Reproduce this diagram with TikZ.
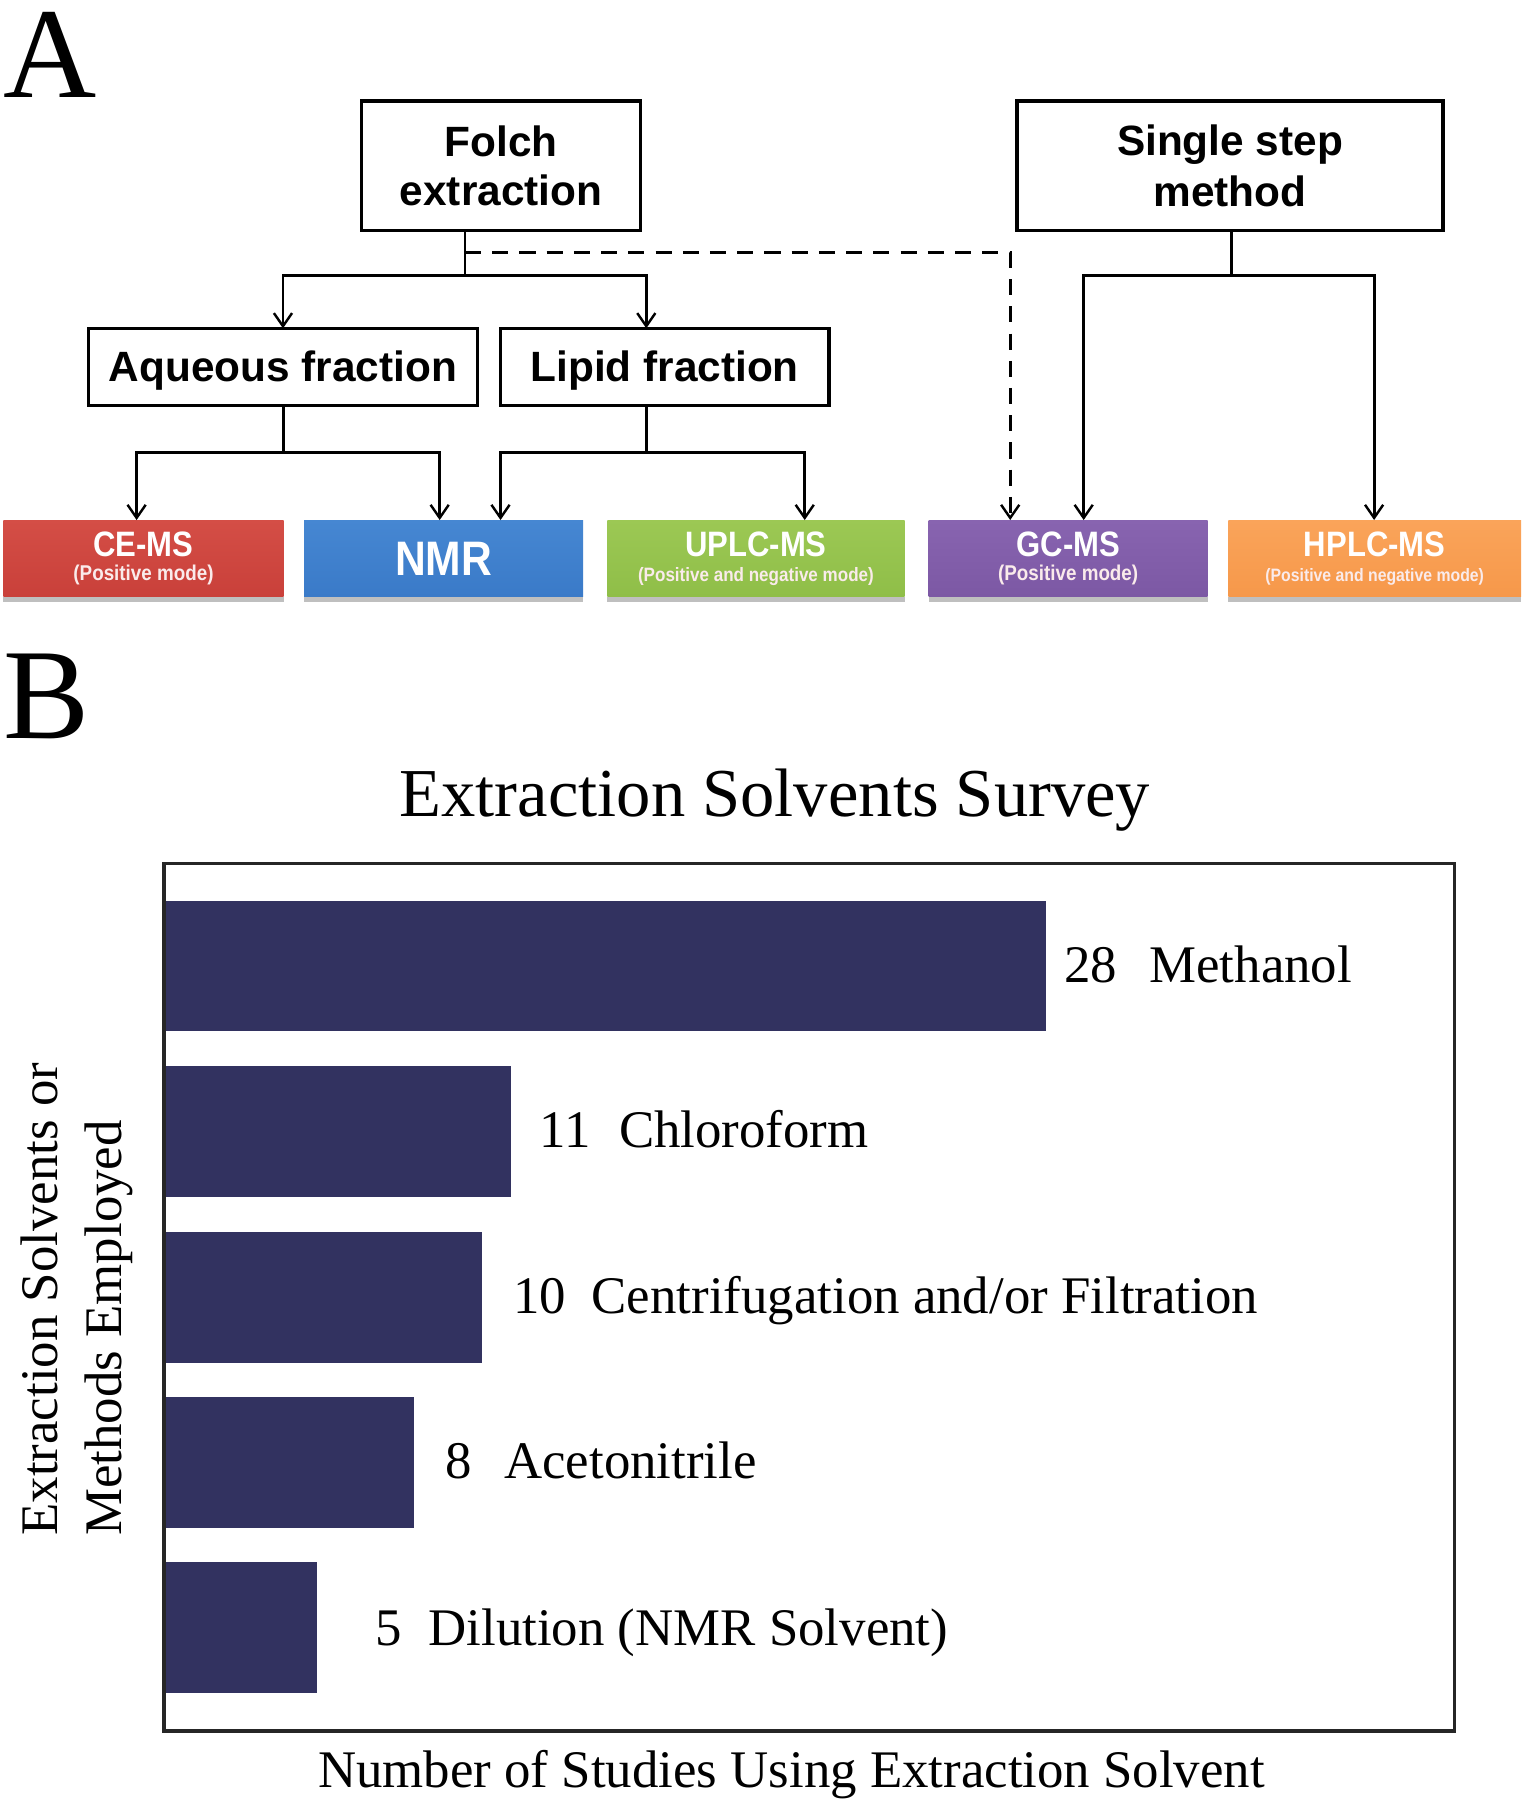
\documentclass[tikz,border=0pt]{standalone}
\usepackage{fontspec}
\setmainfont{Liberation Serif}
\newfontfamily\arialf{Liberation Sans}
\newfontfamily\arialn[FakeStretch=0.88]{Liberation Sans}
\usetikzlibrary{arrows.meta}
\definecolor{cered}{RGB}{201,64,58}
\definecolor{ceredtop}{RGB}{212,78,70}
\definecolor{nmrblue}{RGB}{58,122,200}
\definecolor{nmrbluetop}{RGB}{70,135,210}
\definecolor{uplcgreen}{RGB}{143,190,72}
\definecolor{uplcgreentop}{RGB}{156,200,84}
\definecolor{gcpurple}{RGB}{124,88,164}
\definecolor{gcpurpletop}{RGB}{136,100,176}
\definecolor{hplcorange}{RGB}{246,152,74}
\definecolor{hplcorangetop}{RGB}{250,164,90}
\definecolor{barblue}{RGB}{50,50,96}
\definecolor{subpink}{RGB}{250,235,235}
\begin{document}
\begin{tikzpicture}[x=0.02cm,y=-0.02cm,
  topbox/.style={draw, line width=1.7pt, inner sep=0pt, outer sep=0pt, align=center,
    font=\arialf\bfseries\fontsize{21}{25.6}\selectfont},
  onebox/.style={topbox, text height=15pt, text depth=0pt},
  methbox/.style={inner sep=0pt, outer sep=0pt, minimum height=1.34cm, align=center,
    text=white, font=\arialn\bfseries\fontsize{10}{12.2}\selectfont},
  conn/.style={line width=1.4pt},
  arr/.style={line width=1.4pt, -{Straight Barb[length=6.5pt,width=9pt,line width=1.2pt]}},
  dasharr/.style={arr, dash pattern=on 8pt off 5.5pt},
  lab/.style={inner sep=0pt, font=\fontsize{26.2}{30}\selectfont},
  panel/.style={inner sep=0pt, anchor=base west, text height=42pt, text depth=0pt,
    font=\fontsize{64}{70}\selectfont}
]
\useasboundingbox (0,0) rectangle (1328,1568);

% ---------- Panel A ----------
\node[panel] (pA) at (3,85) {A};

\node[topbox, minimum width=4.86cm, minimum height=2.26cm] (folch) at (436.5,144.5)
  {\raisebox{-1.5pt}{Folch}\\extraction};
\node[topbox, minimum width=7.42cm, minimum height=2.26cm] (single) at (1071.5,144.5) {Single step\\method};
\node[onebox, minimum width=6.78cm, minimum height=1.34cm] (aq) at (246.5,319.5) {Aqueous fraction};
\node[onebox, minimum width=5.72cm, minimum height=1.34cm] (lip) at (579,319.5) {Lipid fraction};

\node[methbox, minimum width=4.88cm, top color=ceredtop, bottom color=cered] (cems) at (125,486.5)
  {{\fontsize{17.5}{17.5}\selectfont CE-MS}\\{\color{subpink}\fontsize{10.6}{10.6}\selectfont (Positive mode)}};
\node[methbox, minimum width=4.86cm, top color=nmrbluetop, bottom color=nmrblue,
  font=\arialn\bfseries\fontsize{24}{24}\selectfont] (nmr) at (386.5,486.5) {NMR};
\node[methbox, minimum width=5.18cm, top color=uplcgreentop, bottom color=uplcgreen] (uplc) at (658.5,486.5)
  {{\fontsize{17.5}{17.5}\selectfont UPLC-MS}\\{\color{subpink}\fontsize{9.6}{9.6}\selectfont (Positive and negative mode)}};
\node[methbox, minimum width=4.86cm, top color=gcpurpletop, bottom color=gcpurple] (gcms) at (930.5,486.5)
  {{\fontsize{17.5}{17.5}\selectfont GC-MS}\\{\color{subpink}\fontsize{10.6}{10.6}\selectfont (Positive mode)}};
\node[methbox, minimum width=5.10cm, top color=hplcorangetop, bottom color=hplcorange] (hplc) at (1197.5,486.5)
  {{\fontsize{17.5}{17.5}\selectfont HPLC-MS}\\{\color{subpink}\fontsize{8.9}{8.9}\selectfont (Positive and negative mode)}};

\foreach \n in {cems,nmr,uplc,gcms,hplc}
  \fill[gray!50] (\n.south west) rectangle ([yshift=-2.5pt]\n.south east);

% junction coordinates
\coordinate (fj) at (405,240);
\coordinate (fd) at (405,220);
\coordinate (lipx) at (563,0);
\coordinate (aqj) at (247,394);
\coordinate (lipj) at (563,394);
\coordinate (sj) at (1073,240);
\coordinate (x119) at (119,0);
\coordinate (x383) at (383,0);
\coordinate (x436) at (436,0);
\coordinate (x701) at (701,0);
\coordinate (x880) at (880,0);
\coordinate (x944) at (944,0);
\coordinate (x1197) at (1197,0);

% Folch connectors
\draw[conn] (folch.south -| fj) -- (fj);
\draw[arr] (fj) -| (aq.north);
\draw[arr] (fj) -| (lip.north -| lipx);
\draw[dasharr] (fd) -| (gcms.north -| x880);

% Single step connectors
\draw[conn] (single.south -| sj) -- (sj);
\draw[arr] (sj) -| (gcms.north -| x944);
\draw[arr] (sj) -| (hplc.north -| x1197);

% Aqueous connectors
\draw[conn] (aq.south -| aqj) -- (aqj);
\draw[arr] (aqj) -| (cems.north -| x119);
\draw[arr] (aqj) -| (nmr.north -| x383);

% Lipid connectors
\draw[conn] (lip.south -| lipj) -- (lipj);
\draw[arr] (lipj) -| (nmr.north -| x436);
\draw[arr] (lipj) -| (uplc.north -| x701);

% ---------- Panel B ----------
\node[panel] (pB) at (3,643) {B};
\node[inner sep=0pt, anchor=base, font=\fontsize{34}{40}\selectfont] (title) at (675,711) {Extraction Solvents Survey};

\fill[barblue] (143,785) rectangle (911,898);
\fill[barblue] (143,929) rectangle (445,1043);
\fill[barblue] (143,1073) rectangle (420,1187);
\fill[barblue] (143,1217) rectangle (361,1331);
\fill[barblue] (143,1361) rectangle (276,1475);
\draw[line width=1.7pt, black!85] (143,752) rectangle (1267,1508);

\node[lab, anchor=base west] (v1) at (927,856) {28};
\node[lab, anchor=base west] (s1) at (1001,856) {Methanol};
\node[lab, anchor=base west] (v2) at (470,1000) {11};
\node[lab, anchor=base west] (s2) at (539,1000) {Chloroform};
\node[lab, anchor=base west] (v3) at (447,1144) {10};
\node[lab, anchor=base west] (s3) at (515,1144) {Centrifugation and/or Filtration};
\node[lab, anchor=base west] (v4) at (388,1288) {8};
\node[lab, anchor=base west] (s4) at (439,1288) {Acetonitrile};
\node[lab, anchor=base west] (v5) at (327,1433) {5};
\node[lab, anchor=base west] (s5) at (373,1433) {Dilution (NMR Solvent)};

\node[lab, rotate=90, anchor=base west] (yl1) at (50.5,1338) {Extraction Solvents or};
\node[lab, rotate=90, anchor=base west] (yl2) at (105.5,1338) {Methods Employed};
\node[lab, anchor=base] (xl) at (689.5,1557) {Number of Studies Using Extraction Solvent};
\end{tikzpicture}
\end{document}
